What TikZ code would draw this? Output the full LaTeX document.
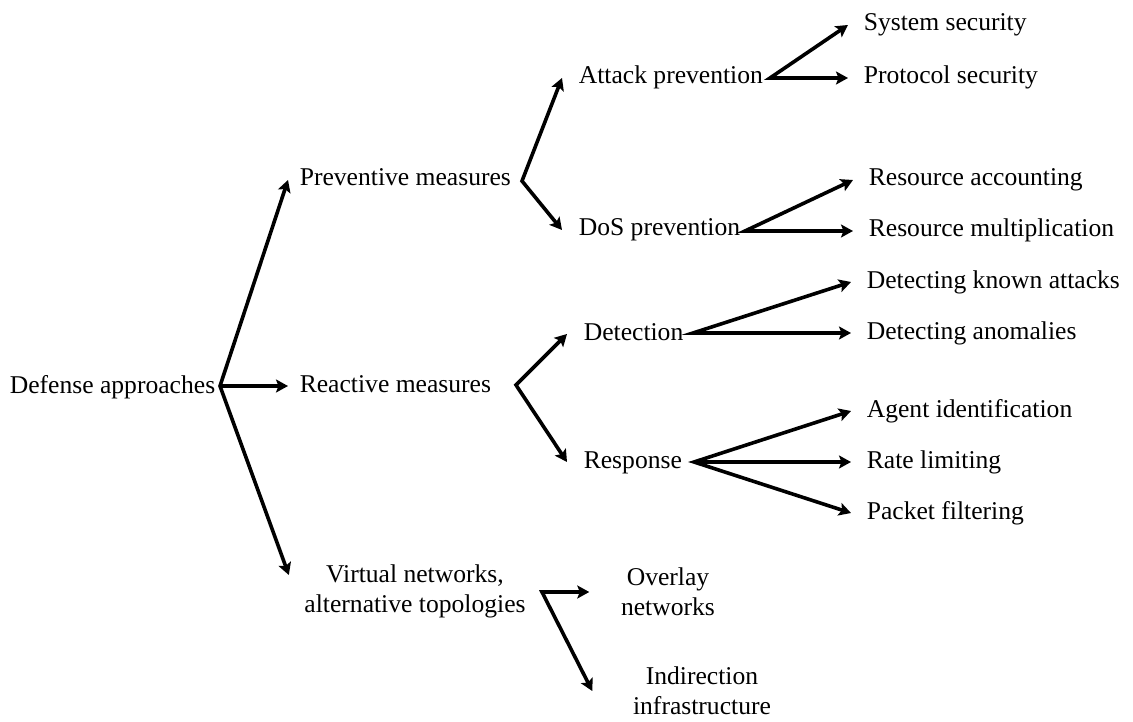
\documentclass[tikz,border=0pt]{standalone}
\usepackage{fontspec}
\setmainfont{Liberation Serif}
\usetikzlibrary{arrows.meta}

\begin{document}
\begin{tikzpicture}[x=1pt, y=-1pt, line width=3.6pt,
    font=\fontsize{25.6pt}{30pt}\selectfont,
    >={Stealth[length=12pt,width=13pt,inset=2.5pt]},
    lbl/.style={anchor=west, inner ysep=0pt, text height=18pt, text depth=6pt},
    lvlone/.style={lbl, inner xsep=10pt},
    lvltwo/.style={lbl, inner xsep=15pt},
    lvlthree/.style={lbl, inner xsep=14pt},
    blk/.style={align=center, inner ysep=0pt}]
            \useasboundingbox (0,0) rectangle (1133,722);

            \node[lbl, inner xsep=0pt] (root) at (8,387) {Defense approaches};
            \node[lvlone] (prev) at (288,180) {Preventive measures};
            \node[lvlone] (react) at (288,386) {Reactive measures};
            \node[blk, inner xsep=8pt] (virt) at (415,591) {Virtual networks,\\alternative topologies};

            \node[lvltwo] (att) at (562,78) {Attack prevention};
            \node[lvltwo] (dos) at (562,230) {DoS prevention};
            \node[lvltwo] (det) at (567,334) {Detection};
            \node[lvltwo] (resp) at (567,462) {Response};
            \node[blk, inner xsep=30pt] (ovl) at (668,592) {Overlay\\networks};
            \node[blk, inner xsep=39pt] (ind) at (702,691) {Indirection\\infrastructure};

            \node[lvlthree] (sys) at (848,25) {System security};
            \node[lvlthree] (prot) at (848,78) {Protocol security};
            \node[lvlthree] (racc) at (853,180) {Resource accounting};
            \node[lvlthree] (rmul) at (853,231) {Resource multiplication};
            \node[lvlthree] (dka) at (851,282) {Detecting known attacks};
            \node[lvlthree] (dan) at (851,333) {Detecting anomalies};
            \node[lvlthree] (agent) at (851,411) {Agent identification};
            \node[lvlthree] (rate) at (851,462) {Rate limiting};
            \node[lvlthree] (pkt) at (851,513) {Packet filtering};

            \coordinate (fRoot) at (220,386);
            \coordinate (fPrev) at (522,181);
            \coordinate (fAtt) at (770,78);
            \coordinate (fDos) at (745,231);
            \coordinate (fReact) at (516,385);
            \coordinate (fDet) at (693,333);
            \coordinate (fResp) at (694,462);
            \coordinate (fVirt) at (542,592);

            \draw[<->, shorten >=17pt] (prev.west) -- (fRoot) -- (virt.west);
            \draw[->] (fRoot) -- (react.west);
            \draw[<->] (att.west) -- (fPrev) -- (dos.west);
            \draw[<->] (sys.west) -- (fAtt) -- (prot.west);
            \draw[<->] (racc.west) -- (fDos) -- (rmul.west);
            \draw[<->] (det.west) -- (fReact) -- (resp.west);
            \draw[<->] (dka.west) -- (fDet) -- (dan.west);
            \draw[<->] (agent.west) -- (fResp) -- (pkt.west);
            \draw[->] (fResp) -- (rate.west);
            \draw[<->] (ovl.west) -- (fVirt) -- (ind.west);
        \end{tikzpicture}
\end{document}
